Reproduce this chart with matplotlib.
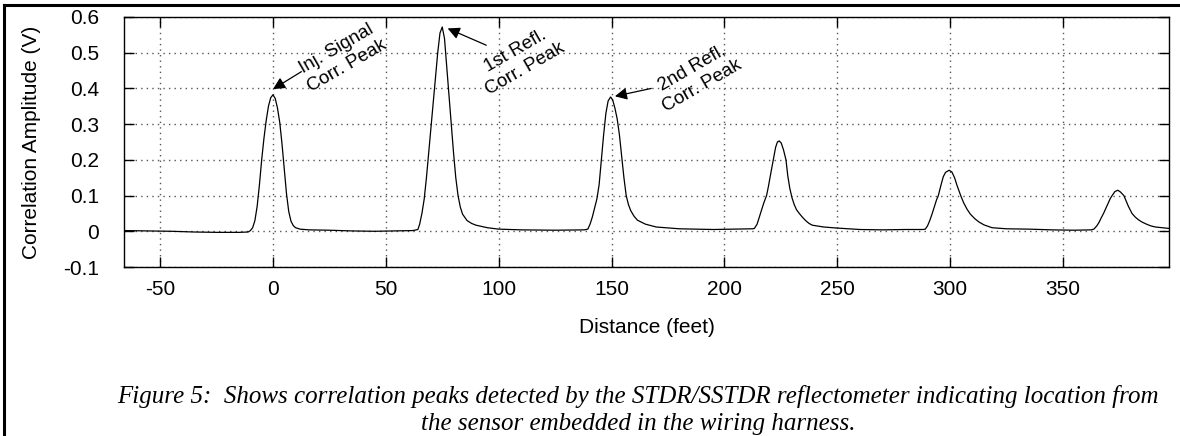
import matplotlib.pyplot as plt
from matplotlib.lines import Line2D

# values (feet, volts)
distance = [
    -66, -55, -45, -35, -25, -15, -11, -10, -9, -8, -7, -6, -5, -4, -3, -2, -1, 0,
    1, 2, 3, 4, 5, 6, 7, 8, 9, 10, 12, 16, 25, 35, 45, 55, 62, 64.2,
    65, 66, 67, 68, 69, 70, 71, 72, 73, 74, 75, 76, 77, 78, 79, 80, 81, 82,
    83, 84, 86, 88, 90, 95, 100, 110, 125, 138,
    139.5, 140.5, 141.5, 142.5, 143.5, 144.5, 145.5, 146.5, 147.5, 148.5, 149.6,
    150.5, 151.5, 152.5, 153.5, 154.5, 155.5, 156.5, 157.5, 158.5, 160, 161.5,
    165, 169.8, 180, 195, 205, 212.5,
    213.3, 214.5, 215.5, 216.5, 217.5, 218.7, 219.5, 220.5, 221.7, 222.7, 223.5,
    224.3, 225.2, 226.2, 227.3, 228.1, 229, 230, 231, 232, 233.2, 234.5, 236,
    237.5, 239, 244, 250, 260, 270, 280, 288,
    289, 290, 291, 292, 293, 294, 294.8, 296, 297, 298, 299.6, 300.8, 302, 303,
    304, 304.7, 306, 307.5, 309, 311, 312.8, 315, 318.6, 325, 335, 345, 355, 362.5,
    363.7, 365, 366, 367, 368, 369, 370, 371, 371.8, 373, 374.3, 375.5, 377, 378,
    379, 380.6, 382, 383.5, 385, 387, 389, 391, 394, 397,
]
amplitude = [
    0.002, 0.001, 0.0, -0.002, -0.003, -0.003, -0.002, 0.002, 0.01, 0.03, 0.07, 0.13, 0.2, 0.26, 0.31, 0.35, 0.374, 0.382,
    0.372, 0.345, 0.305, 0.245, 0.175, 0.105, 0.055, 0.028, 0.016, 0.01, 0.006, 0.004, 0.003, 0.001, 0.0, 0.001, 0.002, 0.005,
    0.02, 0.05, 0.09, 0.15, 0.22, 0.29, 0.36, 0.43, 0.5, 0.555, 0.572, 0.54, 0.46, 0.38, 0.3, 0.22, 0.15, 0.1,
    0.068, 0.048, 0.03, 0.022, 0.017, 0.01, 0.006, 0.004, 0.003, 0.004,
    0.006, 0.02, 0.04, 0.065, 0.09, 0.13, 0.2, 0.27, 0.33, 0.365, 0.376,
    0.368, 0.345, 0.315, 0.27, 0.21, 0.15, 0.1, 0.075, 0.058, 0.042, 0.031,
    0.02, 0.012, 0.007, 0.005, 0.006, 0.007,
    0.008, 0.02, 0.04, 0.06, 0.08, 0.1, 0.125, 0.16, 0.2, 0.235, 0.25,
    0.253, 0.247, 0.228, 0.2, 0.155, 0.12, 0.093, 0.074, 0.06, 0.05, 0.04, 0.03,
    0.022, 0.017, 0.012, 0.009, 0.005, 0.004, 0.005, 0.005,
    0.006, 0.015, 0.03, 0.048, 0.068, 0.088, 0.1, 0.13, 0.153, 0.165, 0.171, 0.166, 0.15, 0.13,
    0.112, 0.1, 0.08, 0.062, 0.048, 0.035, 0.026, 0.018, 0.01, 0.007, 0.006, 0.004, 0.003, 0.004,
    0.006, 0.015, 0.025, 0.038, 0.05, 0.064, 0.078, 0.092, 0.1, 0.111, 0.115, 0.11, 0.1, 0.085,
    0.07, 0.05, 0.04, 0.032, 0.026, 0.02, 0.015, 0.012, 0.01, 0.008,
]

x_ticks = [-50, 0, 50, 100, 150, 200, 250, 300, 350]
y_ticks = [-0.1, 0, 0.1, 0.2, 0.3, 0.4, 0.5, 0.6]
y_tick_labels = ['-0.1', '0', '0.1', '0.2', '0.3', '0.4', '0.5', '0.6']

# annotation labels: (text, arrow head, arrow tail, text centre)
notes = [
    ('Inj. Signal\nCorr. Peak', (0, 0.398), (12.6, 0.447), (30.5, 0.487)),
    ('1st Refl.\nCorr. Peak', (77.4, 0.568), (94.5, 0.521), (109.5, 0.48)),
    ('2nd Refl.\nCorr. Peak', (151.5, 0.378), (167.6, 0.40), (188, 0.432)),
]

caption = ('Figure 5:  Shows correlation peaks detected by the STDR/SSTDR reflectometer indicating location from\n'
           'the sensor embedded in the wiring harness.')

plt.rcParams['font.family'] = ['Liberation Sans', 'DejaVu Sans']
plt.rcParams['axes.unicode_minus'] = False

fig = plt.figure(figsize=(11.8, 4.36), dpi=100)
ax = fig.add_axes([124 / 1180, 1 - 267 / 436, (1169 - 124) / 1180, (267 - 17) / 436])

ax.plot(distance, amplitude, color='black', lw=0.9)
ax.set_xlim(-66, 397)
ax.set_ylim(-0.1, 0.6)
ax.set_xticks(x_ticks)
ax.set_yticks(y_ticks)
ax.set_yticklabels(y_tick_labels)
ax.tick_params(direction='in', length=7, width=1, top=True, right=True, labelsize=15)
ax.tick_params(axis='y', pad=18)
ax.tick_params(axis='x', pad=9)
ax.grid(True, linestyle=(0, (1, 3)), color='#555555', lw=1)
for s in ax.spines.values():
    s.set_linewidth(1)
ax.set_xlabel('Distance (feet)', fontsize=15, labelpad=14)
ax.set_ylabel('Correlation Amplitude (V)', fontsize=15, labelpad=16)

for txt, head, tail, pos in notes:
    ax.annotate('', xy=head, xytext=tail,
                arrowprops=dict(arrowstyle='-|>', color='black', lw=0.9,
                                mutation_scale=18, shrinkA=0, shrinkB=0))
    ax.text(pos[0], pos[1], txt, rotation=30, rotation_mode='anchor',
            ha='center', va='center', multialignment='center',
            fontsize=13.5, linespacing=1.25)

fig.text(638 / 1180, 1 - 410 / 436, caption, ha='center', va='center',
         family=['Liberation Serif', 'DejaVu Serif'], style='italic',
         fontsize=18, linespacing=1.3)

# page frame lines (top and left)
fig.add_artist(Line2D([3.5 / 1180, 1], [1 - 5 / 436, 1 - 5 / 436], color='black', lw=2.2))
fig.add_artist(Line2D([4 / 1180, 4 / 1180], [0, 1 - 5 / 436], color='black', lw=2.2))

fig.savefig('out.png', dpi=100)
